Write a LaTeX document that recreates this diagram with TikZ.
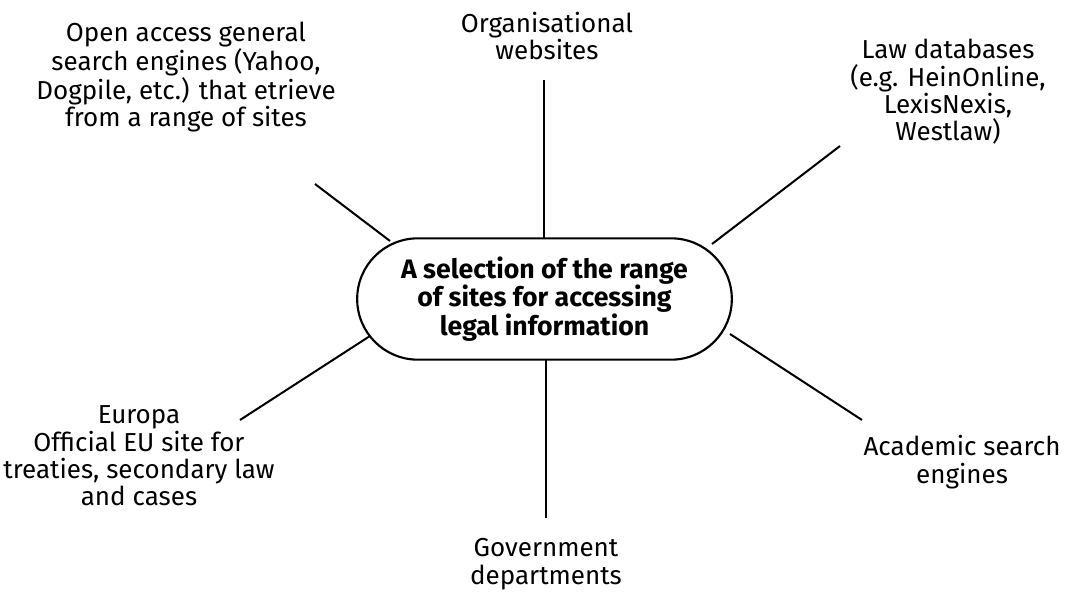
\documentclass[tikz,border=0pt]{standalone}
\usepackage{fontspec}
\setmainfont{Fira Sans}
\usetikzlibrary{shapes.misc}

\tikzset{
  hubbox/.style={rounded rectangle,draw,line width=1.6pt,minimum width=281pt,minimum height=91pt,
    align=center,font=\fontsize{20}{21.3}\selectfont\bfseries,inner sep=0pt},
  site/.style={align=center,font=\fontsize{19.5}{20.5}\selectfont,inner sep=0pt},
  spoke/.style={line width=1.5pt},
}

\begin{document}
\begin{tikzpicture}[x=0.75pt,y=-0.75pt]
  \useasboundingbox (0,0) rectangle (1079,595);
  \node[hubbox] (hub) at (544.5,299) {A selection of the range\\of sites for accessing\\legal information};
  % the sites round the hub
  \node[site] (org) at (547,36) {Organisational\\websites};
  \node[site] (open) at (186,77) {Open access general\\search engines (Yahoo,\\Dogpile, etc.) that etrieve\\from a range of sites};
  \node[site] (law) at (948,92) {Law databases\\(e.g. HeinOnline,\\LexisNexis,\\Westlaw)};
  \node[site] (acad) at (962,462) {Academic search\\engines};
  \node[site] (gov) at (546,564) {Government\\departments};
  \node[site] (eu) at (139,456) {Europa\\Official EU site for\\treaties, secondary law\\and cases};
  % ends of the spokes
  \coordinate (orgE) at (544,80);   \coordinate (orgH) at (544,238);
  \coordinate (openE) at (315,184); \coordinate (openH) at (390,241);
  \coordinate (lawE) at (840,146);  \coordinate (lawH) at (712,244);
  \coordinate (acadE) at (862,420); \coordinate (acadH) at (730,334);
  \coordinate (govE) at (546,518);  \coordinate (govH) at (546,360);
  \coordinate (euE) at (240,420);   \coordinate (euH) at (370,336);
  \draw[spoke] (orgE) -- (orgH);
  \draw[spoke] (openE) -- (openH);
  \draw[spoke] (lawE) -- (lawH);
  \draw[spoke] (acadE) -- (acadH);
  \draw[spoke] (govE) -- (govH);
  \draw[spoke] (euE) -- (euH);
\end{tikzpicture}
\end{document}
